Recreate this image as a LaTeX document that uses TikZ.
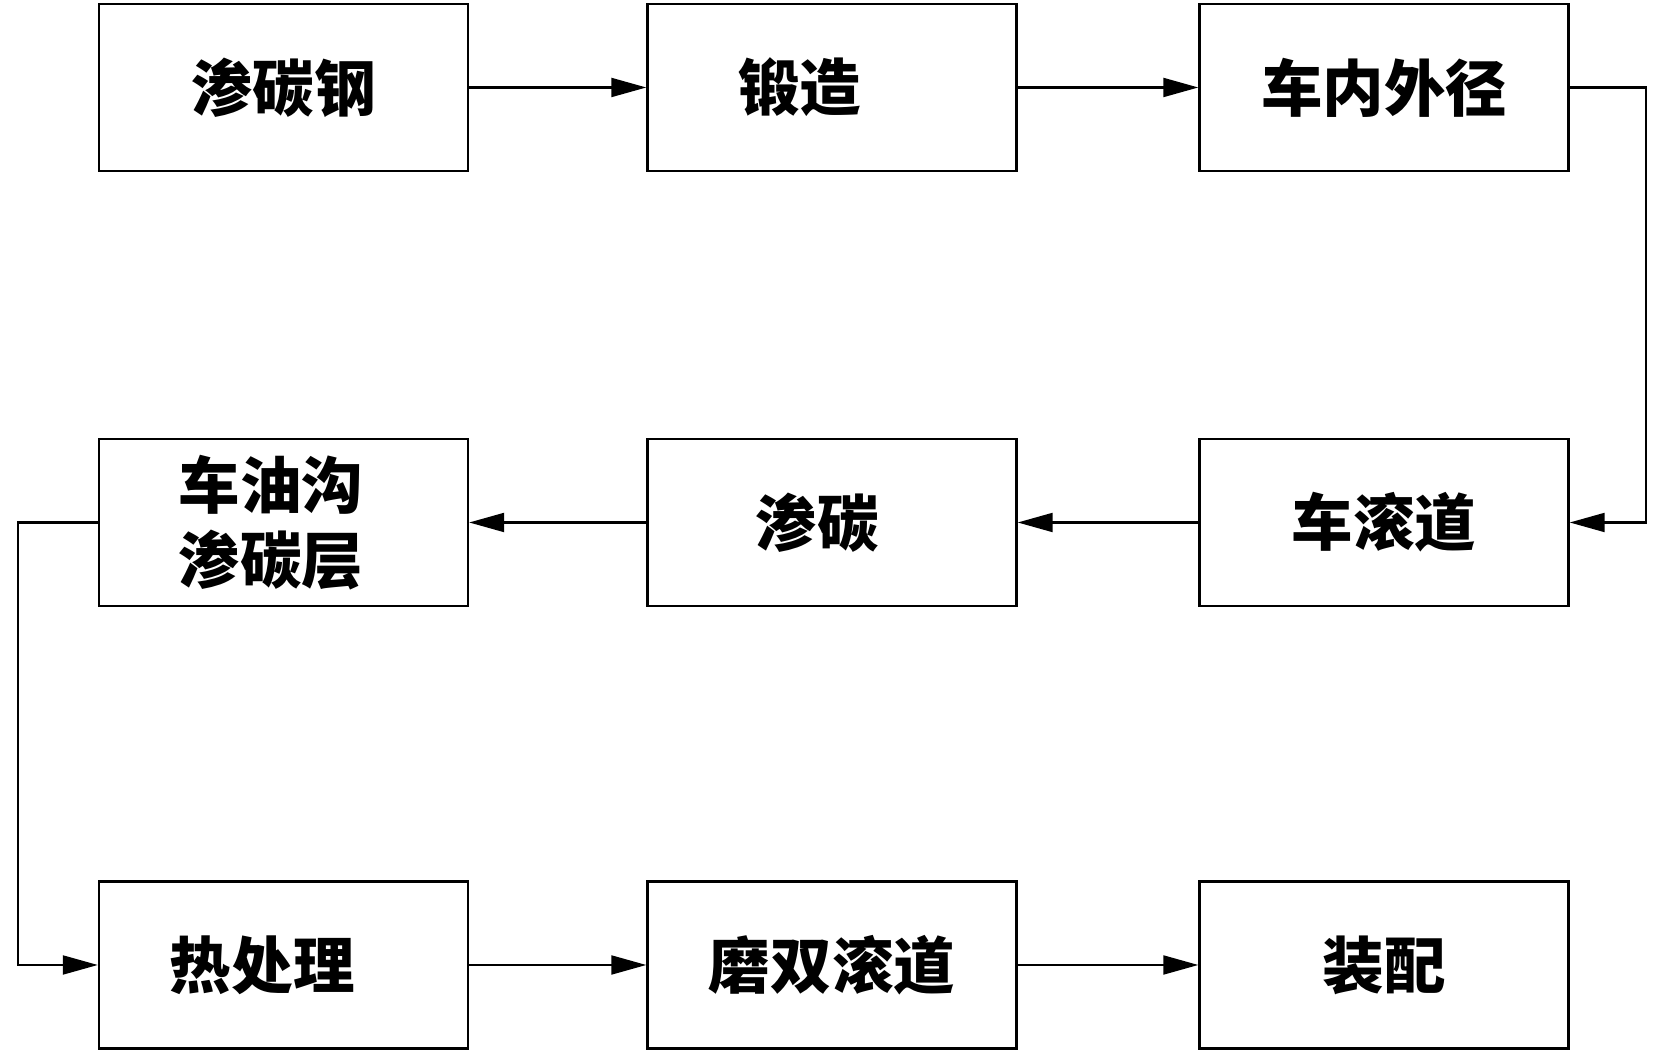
\documentclass[tikz,border=0pt]{standalone}
\usepackage{fontspec}
\newfontfamily\cjk{Noto Sans CJK SC}
\usetikzlibrary{arrows.meta}
\tikzset{
  stepbox/.style={draw, line width=1.4pt, minimum width=7.38cm, minimum height=3.34cm,
    align=center, font=\cjk\bfseries\fontsize{35}{43}\selectfont},
  flow/.style={line width=1.2pt, -{Triangle[length=0.7cm, width=0.38cm]}}
}
\begin{document}
\begin{tikzpicture}
\useasboundingbox (0,0) rectangle (33.48,21.08);
\node[stepbox] (steel) at (5.67,19.33) {渗碳钢};
\node[stepbox] (forge) at (16.64,19.33) {锻造\hspace{1.3cm}};
\node[stepbox] (turn) at (27.68,19.33) {车内外径};
\node[stepbox] (race) at (27.68,10.63) {车滚道};
\node[stepbox] (carb) at (16.64,10.63) {渗碳\hspace{0.6cm}};
\node[stepbox] (groove) at (5.67,10.63) {车油沟\kern0.5cm\\渗碳层\kern0.5cm};
\node[stepbox] (heat) at (5.67,1.78) {热处理\hspace{0.85cm}};
\node[stepbox] (grind) at (16.64,1.78) {磨双滚道};
\node[stepbox] (assy) at (27.68,1.78) {装配};
\coordinate (rtop) at (32.92,19.33);
\coordinate (rbot) at (32.92,10.63);
\coordinate (ltop) at (0.36,10.63);
\coordinate (lbot) at (0.36,1.78);
\draw[flow] (steel) -- (forge);
\draw[flow] (forge) -- (turn);
\draw[flow] (turn.east) -- (rtop) -- (rbot) -- (race.east);
\draw[flow] (race) -- (carb);
\draw[flow] (carb) -- (groove);
\draw[flow] (groove.west) -- (ltop) -- (lbot) -- (heat.west);
\draw[flow] (heat) -- (grind);
\draw[flow] (grind) -- (assy);
\end{tikzpicture}
\end{document}
